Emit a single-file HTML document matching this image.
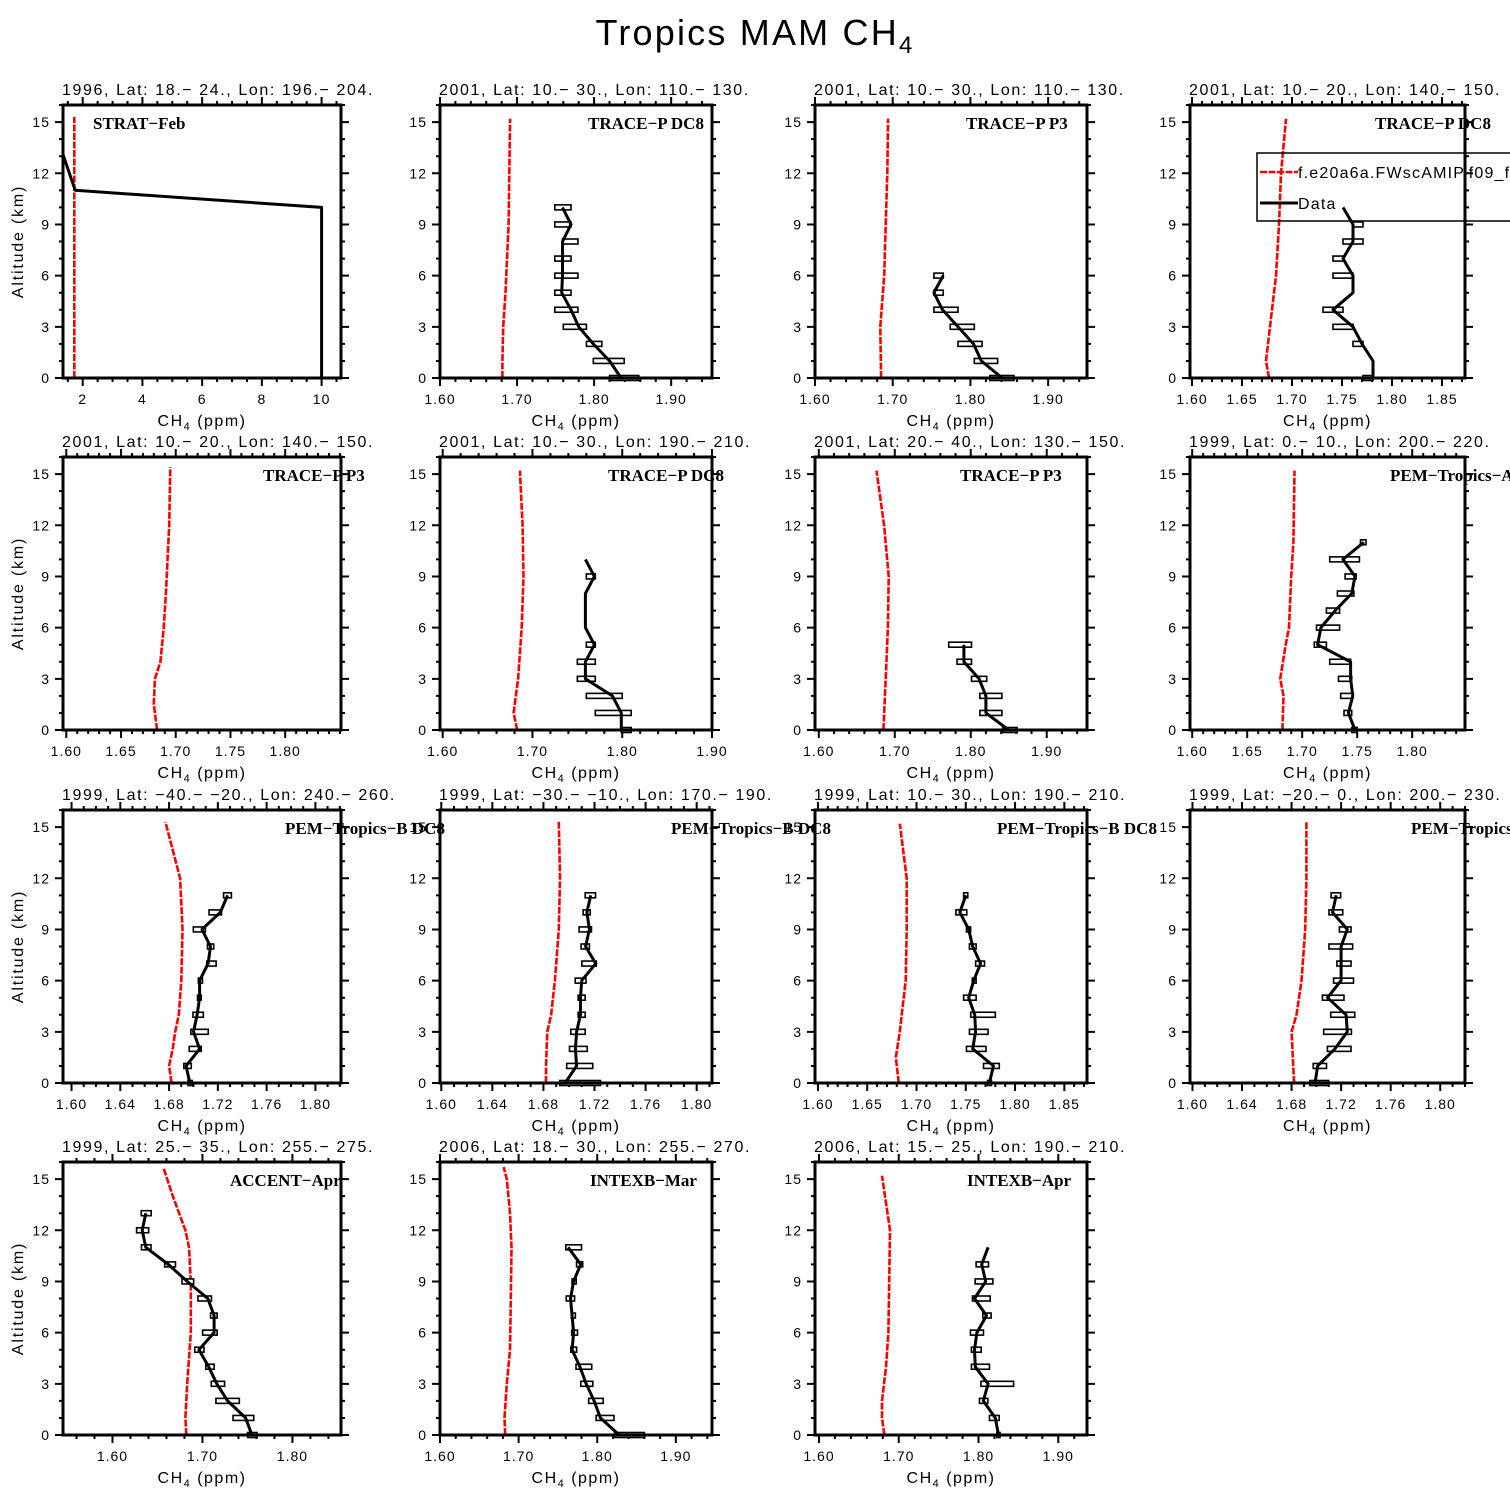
<!DOCTYPE html>
<html><head><meta charset="utf-8"><title>Tropics MAM CH4</title>
<style>html,body{margin:0;padding:0;background:#fff;}svg{display:block;}</style></head>
<body>
<svg id="chart" xmlns="http://www.w3.org/2000/svg" width="1510" height="1510" viewBox="0 0 1510 1510">
<rect x="0" y="0" width="1510" height="1510" fill="#fff"/>
<text x="755" y="45" text-anchor="middle" font-family="Liberation Sans, sans-serif" font-size="36" letter-spacing="2.2" fill="#000">Tropics MAM CH<tspan font-size="24" dy="8">4</tspan></text>
<g id="plots"></g>
</svg>
<script>
// ---------- data (altitude km, CH4 ppm) ----------
const p1Alt=[13.1,11,10,0];
const p1Mean=[1.34,1.75,10,10];
const p1Lo=[null,null,null,null];
const p1Hi=[null,null,null,null];
const p1ModelAlt=[0,15.3];
const p1Model=[1.72,1.72];

const p2Alt=[10,9,8,7,6,5,4,3,2,1,0];
const p2Mean=[1.759,1.770,1.759,1.759,1.759,1.758,1.770,1.780,1.799,1.820,1.835];
const p2Lo=[1.749,1.749,1.759,1.749,1.749,1.749,1.749,1.760,1.790,1.799,1.820];
const p2Hi=[1.770,1.770,1.779,1.770,1.779,1.770,1.779,1.790,1.810,1.839,1.858];
const p2ModelAlt=[0,1,3,5,7,9,12,15.2];
const p2Model=[1.681,1.681,1.682,1.685,1.687,1.689,1.690,1.691];

const p3Alt=[6,5,4,3,2,1,0];
const p3Mean=[1.765,1.753,1.764,1.784,1.804,1.814,1.841];
const p3Lo=[1.753,1.753,1.753,1.774,1.784,1.805,1.825];
const p3Hi=[1.765,1.765,1.784,1.805,1.815,1.835,1.856];
const p3ModelAlt=[0,3,6,9,12,15.2];
const p3Model=[1.685,1.684,1.689,1.691,1.693,1.694];

const p4Alt=[10,9,8,7,6,5,4,3,2,1,0];
const p4Mean=[1.751,1.761,1.761,1.751,1.761,1.761,1.741,1.761,1.770,1.781,1.781];
const p4Lo=[null,1.761,1.751,1.741,1.741,null,1.731,1.741,1.761,null,1.771];
const p4Hi=[null,1.771,1.771,1.751,1.761,null,1.751,1.761,1.771,null,1.781];
const p4ModelAlt=[0,1,3,6,9,12,15.2];
const p4Model=[1.677,1.674,1.678,1.684,1.687,1.689,1.694];

const p5Alt=[];
const p5Mean=[];
const p5Lo=[];
const p5Hi=[];
const p5ModelAlt=[0,1.5,3,4,6,8,12,15.4];
const p5Model=[1.683,1.680,1.681,1.686,1.689,1.691,1.694,1.695];

const p6Alt=[10,9,8,7,6,5,4,3,2,1,0];
const p6Mean=[1.759,1.769,1.759,1.759,1.759,1.769,1.759,1.759,1.789,1.799,1.799];
const p6Lo=[null,1.760,null,null,null,1.760,1.750,1.750,1.760,1.770,1.799];
const p6Hi=[null,1.770,null,null,null,1.770,1.770,1.770,1.800,1.810,1.810];
const p6ModelAlt=[0,1,3,6,9,12,15.2];
const p6Model=[1.683,1.679,1.684,1.688,1.690,1.689,1.686];

const p7Alt=[5,4,3,2,1,0];
const p7Mean=[1.791,1.791,1.811,1.820,1.820,1.850];
const p7Lo=[1.771,1.782,1.801,1.812,1.812,1.842];
const p7Hi=[1.801,1.801,1.821,1.841,1.841,1.861];
const p7ModelAlt=[0,3,6,9,12,15.2];
const p7Model=[1.685,1.688,1.691,1.692,1.686,1.676];

const p8Alt=[11,10,9,8,7,6,5,4,3,2,1,0];
const p8Mean=[1.756,1.737,1.748,1.745,1.730,1.717,1.714,1.744,1.744,1.746,1.742,1.748];
const p8Lo=[1.753,1.725,1.739,1.732,1.722,1.713,1.711,1.725,1.733,1.735,1.738,1.745];
const p8Hi=[1.758,1.752,1.749,1.747,1.734,1.734,1.722,1.744,1.745,1.746,1.745,1.750];
const p8ModelAlt=[0,2,3,5,6,9,11,15.2];
const p8Model=[1.682,1.683,1.680,1.685,1.688,1.690,1.692,1.693];

const p9Alt=[11,10,9,8,7,6,5,4,3,2,1,0];
const p9Mean=[1.728,1.722,1.707,1.714,1.712,1.705,1.705,1.703,1.700,1.705,1.694,1.697];
const p9Lo=[1.7247,1.7128,1.6999,1.7115,1.7109,1.7040,1.7033,1.6996,1.6979,1.6965,1.6921,1.6955];
const p9Hi=[1.7311,1.7230,1.7098,1.7166,1.7186,1.7074,1.7064,1.7081,1.7121,1.7064,1.6982,1.6990];
const p9ModelAlt=[0,1,2,3,4,6,9,12,15.3];
const p9Model=[1.682,1.680,1.683,1.685,1.688,1.690,1.691,1.689,1.677];

const p10Alt=[11,10,9,8,7,6,5,4,3,2,1,0];
const p10Mean=[1.717,1.714,1.716,1.713,1.721,1.710,1.709,1.709,1.706,1.705,1.706,1.697];
const p10Lo=[1.7127,1.7111,1.7079,1.7095,1.7101,1.7049,1.7072,1.7072,1.7014,1.7004,1.6982,1.6927];
const p10Hi=[1.7208,1.7166,1.7176,1.7160,1.7214,1.7133,1.7127,1.7127,1.7127,1.7143,1.7186,1.7247];
const p10ModelAlt=[0,1,3,4,6,9,12,15.3];
const p10Model=[1.682,1.682,1.683,1.686,1.689,1.692,1.693,1.692];

const p11Alt=[11,10,9,8,7,6,5,4,3,2,1,0];
const p11Mean=[1.750,1.744,1.753,1.757,1.765,1.758,1.753,1.759,1.760,1.757,1.778,1.774];
const p11Lo=[1.7478,1.740,1.7507,1.7537,1.760,1.7566,1.7478,1.755,1.7537,1.7507,1.768,1.772];
const p11Hi=[1.7520,1.751,1.7549,1.7605,1.769,1.7605,1.7605,1.780,1.7726,1.7705,1.784,1.776];
const p11ModelAlt=[0,1.5,3,4,6,9,12,15.2];
const p11Model=[1.682,1.679,1.683,1.685,1.689,1.690,1.690,1.683];

const p12Alt=[11,10,9,8,7,6,5,4,3,2,1,0];
const p12Mean=[1.716,1.713,1.725,1.720,1.720,1.720,1.709,1.724,1.725,1.715,1.701,1.699];
const p12Lo=[1.7119,1.7102,1.7186,1.7102,1.7166,1.7139,1.7049,1.7116,1.7059,1.7089,1.6975,1.6948];
const p12Hi=[1.7196,1.7213,1.7280,1.7293,1.7280,1.7300,1.7223,1.7310,1.7283,1.7280,1.7082,1.7099];
const p12ModelAlt=[0,1.5,3,4,6,9,12,15.3];
const p12Model=[1.682,1.681,1.680,1.684,1.688,1.691,1.692,1.692];

const p13Alt=[13,12,11,10,9,8,7,6,5,4,3,2,1,0];
const p13Mean=[1.637,1.633,1.637,1.662,1.683,1.706,1.713,1.713,1.696,1.707,1.716,1.728,1.748,1.755];
const p13Lo=[1.632,1.6268,1.6322,1.658,1.6773,1.695,1.7090,1.7002,1.6914,1.7037,1.7098,1.715,1.734,1.7501];
const p13Hi=[1.643,1.6402,1.6428,1.670,1.6902,1.710,1.7163,1.7163,1.7017,1.7130,1.7246,1.741,1.757,1.7607];
const p13ModelAlt=[0,1,3,6,9,11,12,13,14,15.6];
const p13Model=[1.682,1.681,1.683,1.687,1.687,1.685,1.681,1.674,1.667,1.657];

const p14Alt=[11,10,9,8,7,6,5,4,3,2,1,0];
const p14Mean=[1.763,1.779,1.770,1.766,1.768,1.770,1.768,1.778,1.786,1.796,1.804,1.828];
const p14Lo=[1.760,1.7737,1.7680,1.7606,1.7670,1.7675,1.7664,1.773,1.7791,1.7891,1.7986,1.822];
const p14Hi=[1.780,1.7815,1.7733,1.7712,1.7722,1.7749,1.7738,1.793,1.7944,1.8076,1.8213,1.860];
const p14ModelAlt=[0,1,3,5,8,11,13,15,15.7];
const p14Model=[1.683,1.682,1.685,1.689,1.690,1.691,1.689,1.685,1.681];

const p15Alt=[11,10,9,8,7,6,5,4,3,2,1,0];
const p15Mean=[1.812,1.804,1.809,1.795,1.810,1.798,1.795,1.796,1.812,1.806,1.821,1.825];
const p15Lo=[null,1.7970,1.7958,1.7924,1.8054,1.7899,1.7911,1.7911,1.803,1.8012,1.8137,1.823];
const p15Hi=[null,1.8125,1.8180,1.8146,1.8158,1.8062,1.8033,1.8137,1.844,1.8117,1.8259,1.827];
const p15ModelAlt=[0,1,2,4,6,9,12,15.2];
const p15Model=[1.682,1.679,1.679,1.684,1.687,1.688,1.689,1.679];

// ---------- text ----------
const subtitles=[
"1996, Lat: 18.− 24., Lon: 196.− 204.","2001, Lat: 10.− 30., Lon: 110.− 130.","2001, Lat: 10.− 30., Lon: 110.− 130.","2001, Lat: 10.− 20., Lon: 140.− 150.",
"2001, Lat: 10.− 20., Lon: 140.− 150.","2001, Lat: 10.− 30., Lon: 190.− 210.","2001, Lat: 20.− 40., Lon: 130.− 150.","1999, Lat: 0.− 10., Lon: 200.− 220.",
"1999, Lat: −40.− −20., Lon: 240.− 260.","1999, Lat: −30.− −10., Lon: 170.− 190.","1999, Lat: 10.− 30., Lon: 190.− 210.","1999, Lat: −20.− 0., Lon: 200.− 230.",
"1999, Lat: 25.− 35., Lon: 255.− 275.","2006, Lat: 18.− 30., Lon: 255.− 270.","2006, Lat: 15.− 25., Lon: 190.− 210."];
const campaigns=["STRAT−Feb","TRACE−P DC8","TRACE−P P3","TRACE−P DC8","TRACE−P P3","TRACE−P DC8","TRACE−P P3","PEM−Tropics−A DC8",
"PEM−Tropics−B DC8","PEM−Tropics−B DC8","PEM−Tropics−B DC8","PEM−Tropics−B DC8","ACCENT−Apr","INTEXB−Mar","INTEXB−Apr"];
const campaignX=[93,588,966,1375,263,608,960,1390,285,671,997,1411,230,590,967];

// ---------- layout ----------
const colL=[63,440,815,1190], colW=[278,272,272,275];
const rowT=[105,457,810,1162], plotH=273;
const data=[
[p1Alt,p1Mean,p1Lo,p1Hi,p1ModelAlt,p1Model],[p2Alt,p2Mean,p2Lo,p2Hi,p2ModelAlt,p2Model],
[p3Alt,p3Mean,p3Lo,p3Hi,p3ModelAlt,p3Model],[p4Alt,p4Mean,p4Lo,p4Hi,p4ModelAlt,p4Model],
[p5Alt,p5Mean,p5Lo,p5Hi,p5ModelAlt,p5Model],[p6Alt,p6Mean,p6Lo,p6Hi,p6ModelAlt,p6Model],
[p7Alt,p7Mean,p7Lo,p7Hi,p7ModelAlt,p7Model],[p8Alt,p8Mean,p8Lo,p8Hi,p8ModelAlt,p8Model],
[p9Alt,p9Mean,p9Lo,p9Hi,p9ModelAlt,p9Model],[p10Alt,p10Mean,p10Lo,p10Hi,p10ModelAlt,p10Model],
[p11Alt,p11Mean,p11Lo,p11Hi,p11ModelAlt,p11Model],[p12Alt,p12Mean,p12Lo,p12Hi,p12ModelAlt,p12Model],
[p13Alt,p13Mean,p13Lo,p13Hi,p13ModelAlt,p13Model],[p14Alt,p14Mean,p14Lo,p14Hi,p14ModelAlt,p14Model],
[p15Alt,p15Mean,p15Lo,p15Hi,p15ModelAlt,p15Model]];
// axis: [xmin,xmax,majorStart,majorEnd,majorStep,minorStep,decimals]
const axes=[
[1.34,10.65,2,10,2,0.5,0],[1.6,1.953,1.6,1.9,0.1,0.02,2],[1.6,1.95,1.6,1.9,0.1,0.02,2],[1.598,1.873,1.6,1.85,0.05,0.01,2],
[1.597,1.851,1.6,1.8,0.05,0.01,2],[1.597,1.9,1.6,1.9,0.1,0.02,2],[1.595,1.953,1.6,1.9,0.1,0.02,2],[1.598,1.848,1.6,1.8,0.05,0.01,2],
[1.593,1.821,1.6,1.8,0.04,0.01,2],[1.599,1.812,1.6,1.8,0.04,0.01,2],[1.597,1.873,1.6,1.85,0.05,0.01,2],[1.598,1.82,1.6,1.8,0.04,0.01,2],
[1.545,1.854,1.6,1.8,0.1,0.02,2],[1.6,1.946,1.6,1.9,0.1,0.02,2],[1.595,1.936,1.6,1.9,0.1,0.02,2]];

const NS="http://www.w3.org/2000/svg";
const root=document.getElementById('plots');
function mk(tag,attrs,parent){const e=document.createElementNS(NS,tag);for(const k in attrs)e.setAttribute(k,attrs[k]);(parent||root).appendChild(e);return e;}
const FONT="Liberation Sans, sans-serif";

data.forEach((d,i)=>{
  const r=Math.floor(i/4), c=i%4;
  const L=colL[c], W=colW[c], T=rowT[r], B=T+plotH;
  const ax=axes[i];
  const xs=v=>L+(v-ax[0])/(ax[1]-ax[0])*W;
  const ys=a=>B-a/16*plotH;
  const g=mk('g',{});
  
  
  let tp='';
  const eps=1e-6;
  for(let v=Math.ceil((ax[0]-eps)/ax[5])*ax[5]; v<=ax[1]+eps; v+=ax[5]){
    const rel=(v-ax[2])/ax[4]; const major=Math.abs(rel-Math.round(rel))<1e-4 && v>=ax[2]-eps && v<=ax[3]+eps;
    const x=xs(v), len=major?8:4;
    tp+=`M${x},${B}v${len}M${x},${T}v${-len}`;
  }
  for(let a=0;a<=16;a++){
    const y=ys(a), len=(a%3===0&&a<=15)?8:4;
    tp+=`M${L},${y}h${-len}M${L+W},${y}h${len}`;
  }
  const ticks=mk('path',{d:tp,stroke:'#000','stroke-width':2,fill:'none'},g);
  
  
  for(let v=ax[2]; v<=ax[3]+eps; v+=ax[4]){
    const t=mk('text',{x:xs(v),y:B+26,'text-anchor':'middle','font-family':FONT,'font-size':14,'letter-spacing':1},g);
    
    
    t.textContent=v.toFixed(ax[6]);
  }
  for(let a=0;a<=15;a+=3){
    const t=mk('text',{x:L-13,y:ys(a)+5,'text-anchor':'end','font-family':FONT,'font-size':14,'letter-spacing':1},g);
    
    
    t.textContent=String(a);
  }
  const xt=mk('text',{x:L+W/2,y:B+48,'text-anchor':'middle','font-family':FONT,'font-size':16,'letter-spacing':1.5},g);
  
  
  xt.innerHTML='CH<tspan font-size="11" dy="4">4</tspan><tspan dy="-4"> (ppm)</tspan>';
  if(c===0){
    const yt=mk('text',{x:0,y:0,'text-anchor':'middle','font-family':FONT,'font-size':16,'letter-spacing':1.8,transform:`translate(23,${T+plotH/2}) rotate(-90)`},g);
    
    
    yt.textContent='Altitude (km)';
  }
  const st=mk('text',{x:L-1,y:T-10,'font-family':FONT,'font-size':16,'letter-spacing':1.6},g);
  
  
  st.textContent=subtitles[i];
  const [alt,mean,lo,hi,malt,mval]=d;
  const mp=malt.map((a,k)=>(k?'L':'M')+xs(mval[k]).toFixed(1)+','+ys(a).toFixed(1)).join('');
  const ml=mk('path',{d:mp,stroke:'#ff0000','stroke-width':2.6,fill:'none','stroke-dasharray':'7 1.5'},g);
  
  
  alt.forEach((a,k)=>{
    if(lo[k]==null||hi[k]==null||hi[k]-lo[k]<=0) return;
    const b=mk('rect',{x:xs(lo[k]),y:ys(a)-2.5,width:xs(hi[k])-xs(lo[k]),height:5,fill:'#fff',stroke:'#000','stroke-width':1.6},g);
    
    
  });
  if(alt.length){
    const dp=alt.map((a,k)=>(k?'L':'M')+xs(mean[k]).toFixed(1)+','+ys(a).toFixed(1)).join('');
    const dl=mk('path',{d:dp,stroke:'#000','stroke-width':3,fill:'none','stroke-linejoin':'round'},g);
    
    
  }
  const fr=mk('rect',{x:L,y:T,width:W,height:plotH,fill:'none',stroke:'#000','stroke-width':3},g);
  
  
  const cl=mk('text',{x:campaignX[i],y:T+24,'font-family':'Liberation Serif, serif','font-weight':'bold','font-size':17},g);
  
  
  cl.textContent=campaigns[i];
});

const lg=mk('g',{});


const lr=mk('rect',{x:1257,y:153,width:300,height:68,fill:'none',stroke:'#000','stroke-width':1.5},lg);


const l1=mk('line',{x1:1260,y1:172,x2:1298,y2:172,stroke:'#ff0000','stroke-width':2.6,'stroke-dasharray':'7 1.5'},lg);


const t1=mk('text',{x:1298,y:178,'font-family':FONT,'font-size':16,'letter-spacing':1.2},lg);


t1.textContent='f.e20a6a.FWscAMIP.f09_f09';
const l2=mk('line',{x1:1260,y1:203,x2:1298,y2:203,stroke:'#000','stroke-width':3},lg);


const t2=mk('text',{x:1298,y:209,'font-family':FONT,'font-size':16,'letter-spacing':1.2},lg);


t2.textContent='Data';
</script>
</body></html>
